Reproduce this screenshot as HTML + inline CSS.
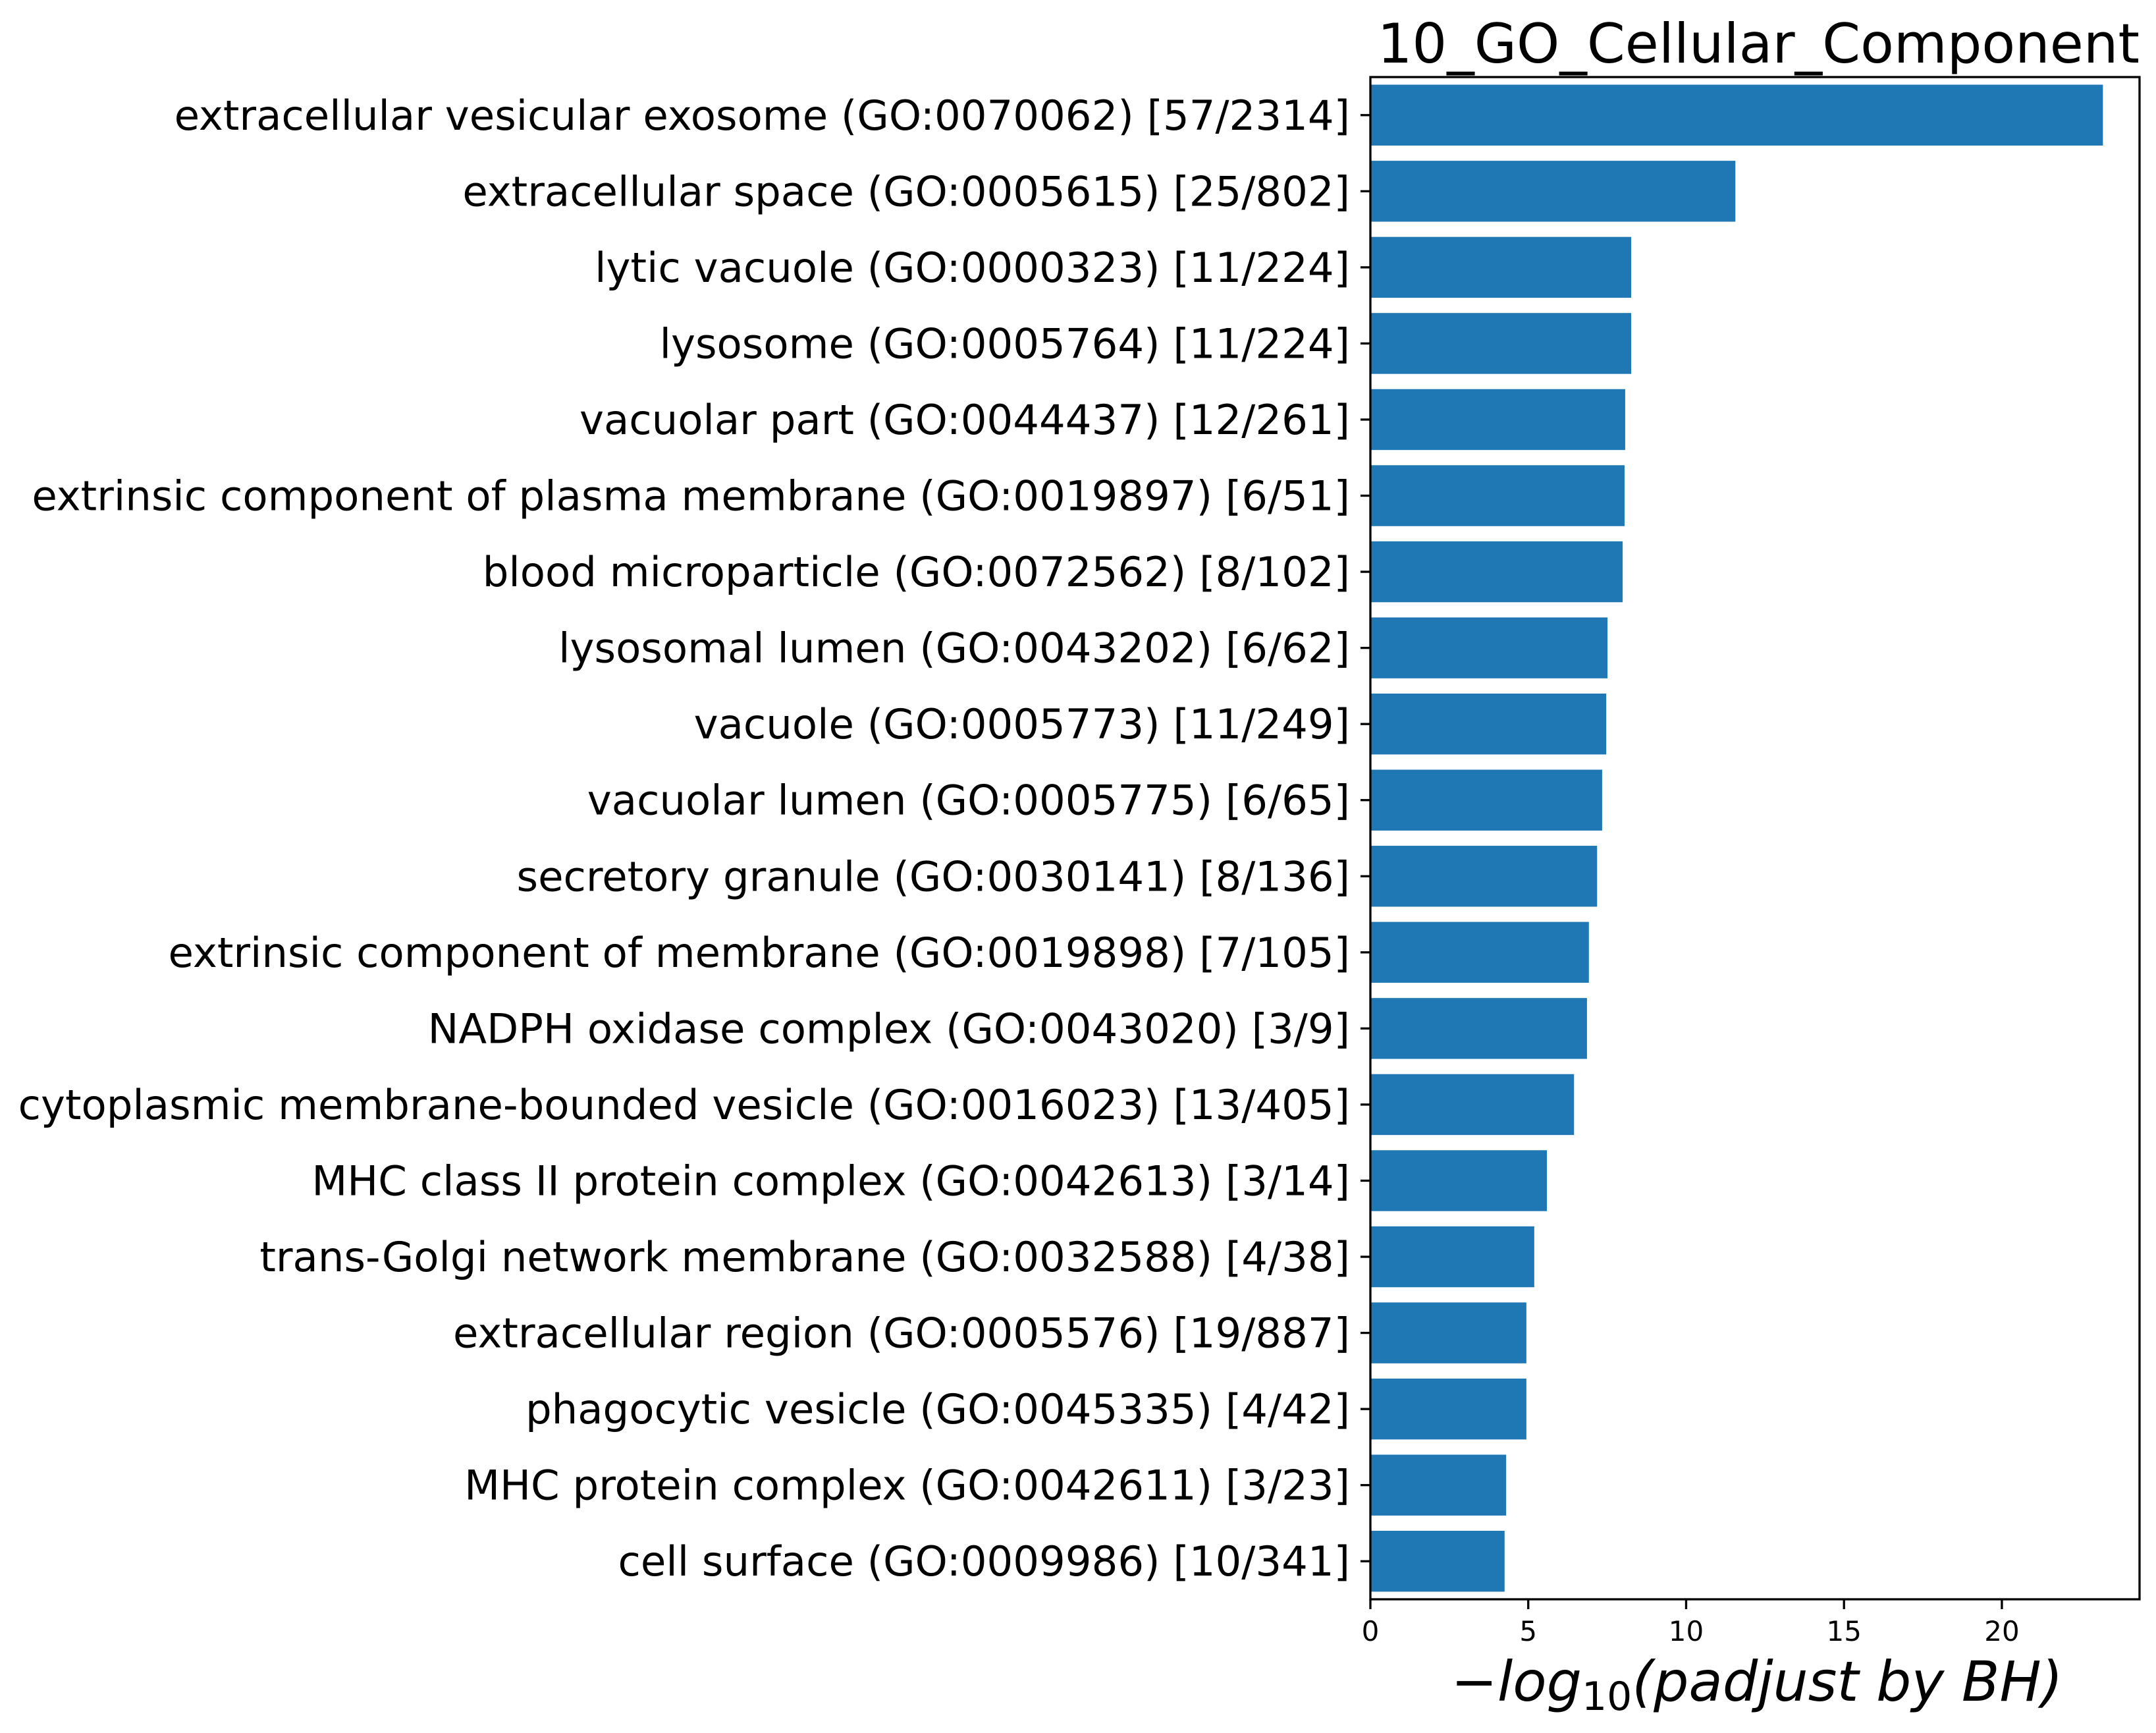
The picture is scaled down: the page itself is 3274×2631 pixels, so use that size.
<!DOCTYPE html>
<html><head><meta charset="utf-8"><style>
html,body{margin:0;padding:0;background:#fff;}
svg{display:block;font-family:"DejaVu Sans","Liberation Sans",sans-serif;}
</style></head><body>
<svg id="chart" width="3274" height="2631" viewBox="0 0 3274 2631" xmlns="http://www.w3.org/2000/svg">
<rect x="0" y="0" width="3274" height="2631" fill="#fff"/>
<g id="bars"></g>
<g id="yticks"></g>
<g id="xticks"></g>
<rect x="2081" y="117" width="1168" height="2311" fill="none" stroke="#000" stroke-width="3.3"/>
<text x="3249" y="95" text-anchor="end" font-size="83">10_GO_Cellular_Component</text>
<text x="2668" y="2582" text-anchor="middle" font-size="84" font-style="italic">−log<tspan font-style="normal" font-size="60" dy="14">10</tspan><tspan dy="-14">(padjust by BH)</tspan></text>
</svg>
<script>
const categories = [
"extracellular vesicular exosome (GO:0070062) [57/2314]",
"extracellular space (GO:0005615) [25/802]",
"lytic vacuole (GO:0000323) [11/224]",
"lysosome (GO:0005764) [11/224]",
"vacuolar part (GO:0044437) [12/261]",
"extrinsic component of plasma membrane (GO:0019897) [6/51]",
"blood microparticle (GO:0072562) [8/102]",
"lysosomal lumen (GO:0043202) [6/62]",
"vacuole (GO:0005773) [11/249]",
"vacuolar lumen (GO:0005775) [6/65]",
"secretory granule (GO:0030141) [8/136]",
"extrinsic component of membrane (GO:0019898) [7/105]",
"NADPH oxidase complex (GO:0043020) [3/9]",
"cytoplasmic membrane-bounded vesicle (GO:0016023) [13/405]",
"MHC class II protein complex (GO:0042613) [3/14]",
"trans-Golgi network membrane (GO:0032588) [4/38]",
"extracellular region (GO:0005576) [19/887]",
"phagocytic vesicle (GO:0045335) [4/42]",
"MHC protein complex (GO:0042611) [3/23]",
"cell surface (GO:0009986) [10/341]"
];
const values = [23.2, 11.56, 8.26, 8.26, 8.07, 8.05, 7.99, 7.51, 7.47, 7.34, 7.18, 6.92, 6.86, 6.45, 5.59, 5.19, 4.94, 4.94, 4.30, 4.25];
const xTicks = [0, 5, 10, 15, 20];
const xTickLabels = ["0", "5", "10", "15", "20"];

const NS = "http://www.w3.org/2000/svg";
const L = 2081, R = 3249, T = 117, B = 2428;
const xMax = Math.max(...values) * 1.05;
const xScale = v => L + (v / xMax) * (R - L);
const n = categories.length;
const yMin = -0.5, yMax = n - 0.5;
const yScale = i => T + ((i - yMin) / (yMax - yMin)) * (B - T);
const band = (B - T) / (yMax - yMin);

function mk(tag, attrs) {
  const e = document.createElementNS(NS, tag);
  for (const k in attrs) e.setAttribute(k, attrs[k]);
  return e;
}
const gb = document.getElementById("bars");
const gy = document.getElementById("yticks");
const gx = document.getElementById("xticks");

values.forEach((v, i) => {
  const cy = yScale(i);
  const r = mk("rect", {x: xScale(0), y: cy - band * 0.4, width: xScale(v) - xScale(0), height: band * 0.8, fill: "#1f77b4"});
  
  
  gb.appendChild(r);
  const tk = mk("line", {x1: L - 15, x2: L, y1: cy, y2: cy, stroke: "#000", "stroke-width": 3.3});
  
  
  gy.appendChild(tk);
  const t = mk("text", {x: L - 31, y: cy + 22, "text-anchor": "end", "font-size": 62.5});
  t.textContent = categories[i];
  
  
  gy.appendChild(t);
});

xTicks.forEach((v, i) => {
  const x = xScale(v);
  const tk = mk("line", {x1: x, x2: x, y1: B, y2: B + 15, stroke: "#000", "stroke-width": 3.3});
  
  
  gx.appendChild(tk);
  const t = mk("text", {x: x, y: B + 63, "text-anchor": "middle", "font-size": 42});
  t.textContent = xTickLabels[i];
  
  
  gx.appendChild(t);
});
</script>
</body></html>
